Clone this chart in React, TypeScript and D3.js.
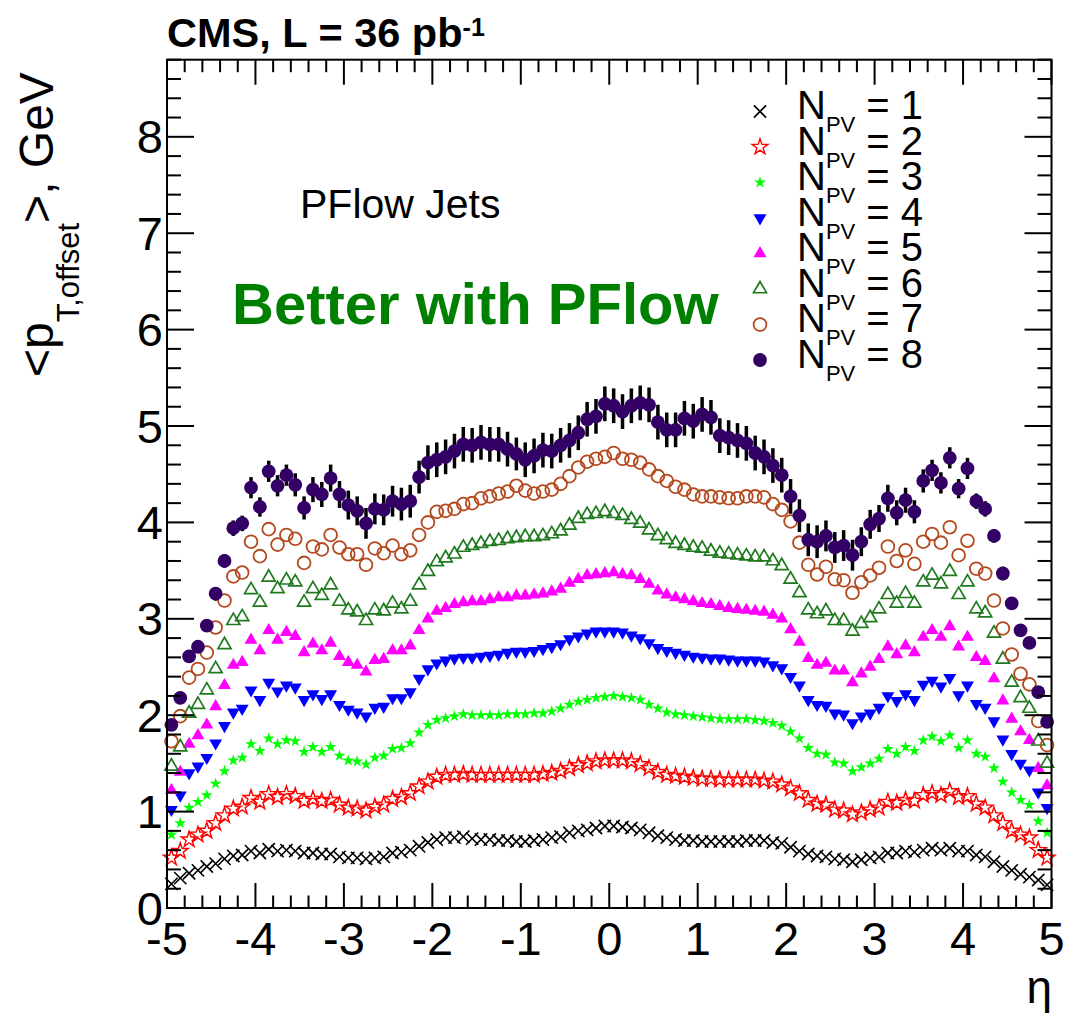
import React from 'react';
import * as d3 from 'd3';

// ---------- data ----------
const etaMin = -5;
const etaMax = 5;
const binWidth = 0.1;
const etaCenters = d3.range(100).map((i) => etaMin + binWidth / 2 + i * binWidth);

const npv1 = [
  0.25,0.31,0.36,0.39,0.43,0.46,0.51,0.54,0.55,0.59,
  0.57,0.61,0.59,0.60,0.59,0.57,0.57,0.56,0.56,0.53,
  0.52,0.52,0.51,0.52,0.53,0.57,0.58,0.60,0.64,0.68,
  0.71,0.73,0.73,0.74,0.72,0.71,0.71,0.70,0.70,0.69,
  0.69,0.70,0.71,0.73,0.74,0.78,0.80,0.81,0.83,0.85,
  0.85,0.84,0.83,0.81,0.78,0.75,0.73,0.71,0.70,0.70,
  0.69,0.69,0.69,0.69,0.69,0.70,0.70,0.70,0.68,0.67,
  0.63,0.59,0.56,0.54,0.53,0.51,0.50,0.48,0.50,0.52,
  0.53,0.57,0.57,0.59,0.58,0.60,0.62,0.60,0.62,0.59,
  0.59,0.55,0.53,0.48,0.43,0.39,0.35,0.32,0.29,0.24,
];
const npv2 = [
  0.52,0.59,0.71,0.76,0.80,0.88,0.96,1.03,1.05,1.14,
  1.10,1.18,1.15,1.18,1.16,1.11,1.13,1.11,1.12,1.07,
  1.04,1.03,1.01,1.05,1.07,1.13,1.15,1.19,1.26,1.31,
  1.36,1.38,1.38,1.39,1.38,1.38,1.38,1.38,1.38,1.38,
  1.38,1.38,1.39,1.40,1.42,1.45,1.48,1.50,1.52,1.53,
  1.53,1.53,1.52,1.49,1.45,1.41,1.38,1.37,1.36,1.35,
  1.34,1.34,1.33,1.33,1.33,1.33,1.33,1.32,1.31,1.28,
  1.24,1.19,1.12,1.08,1.07,1.02,1.01,0.97,0.99,1.02,
  1.04,1.10,1.09,1.12,1.11,1.17,1.19,1.17,1.21,1.15,
  1.16,1.08,1.04,0.96,0.88,0.80,0.76,0.73,0.60,0.52,
];
const npv3 = [
  0.76,0.88,1.04,1.10,1.17,1.29,1.42,1.53,1.56,1.70,
  1.63,1.76,1.70,1.74,1.73,1.62,1.67,1.62,1.67,1.58,
  1.53,1.52,1.49,1.56,1.58,1.65,1.66,1.71,1.82,1.90,
  1.95,1.97,1.99,2.01,2.00,2.00,2.00,2.00,2.01,2.01,
  2.01,2.02,2.02,2.04,2.07,2.11,2.14,2.16,2.18,2.19,
  2.20,2.19,2.18,2.16,2.11,2.07,2.03,2.01,2.00,1.99,
  1.98,1.97,1.96,1.96,1.96,1.96,1.95,1.94,1.92,1.89,
  1.83,1.76,1.66,1.60,1.59,1.51,1.50,1.42,1.46,1.50,
  1.55,1.65,1.60,1.67,1.63,1.74,1.78,1.73,1.79,1.66,
  1.74,1.60,1.57,1.45,1.31,1.20,1.12,1.07,0.90,0.78,
];
const npv4 = [
  1.02,1.17,1.40,1.47,1.56,1.71,1.89,2.03,2.07,2.26,
  2.16,2.34,2.25,2.31,2.29,2.16,2.22,2.17,2.22,2.11,
  2.06,2.03,1.99,2.08,2.09,2.18,2.18,2.24,2.38,2.48,
  2.54,2.57,2.59,2.60,2.60,2.61,2.62,2.63,2.65,2.66,
  2.66,2.67,2.69,2.71,2.74,2.79,2.82,2.85,2.87,2.87,
  2.87,2.86,2.83,2.80,2.75,2.70,2.67,2.65,2.63,2.61,
  2.60,2.59,2.59,2.58,2.57,2.57,2.57,2.56,2.52,2.49,
  2.40,2.31,2.16,2.11,2.10,2.02,2.01,1.92,1.99,2.02,
  2.08,2.20,2.15,2.22,2.16,2.32,2.36,2.30,2.39,2.21,
  2.31,2.12,2.08,1.94,1.75,1.60,1.50,1.43,1.20,1.04,
];
const npv5 = [
  1.22,1.41,1.70,1.79,1.90,2.09,2.31,2.52,2.55,2.78,
  2.67,2.88,2.78,2.86,2.82,2.65,2.74,2.67,2.75,2.61,
  2.55,2.52,2.45,2.57,2.58,2.67,2.67,2.72,2.88,3.00,
  3.08,3.11,3.15,3.17,3.18,3.18,3.20,3.22,3.22,3.24,
  3.24,3.25,3.26,3.28,3.31,3.37,3.41,3.45,3.46,3.47,
  3.48,3.46,3.45,3.41,3.36,3.29,3.25,3.22,3.20,3.18,
  3.16,3.15,3.13,3.11,3.10,3.09,3.08,3.07,3.04,3.00,
  2.89,2.76,2.59,2.52,2.54,2.46,2.46,2.34,2.43,2.50,
  2.58,2.71,2.63,2.72,2.65,2.81,2.88,2.81,2.92,2.71,
  2.81,2.60,2.56,2.38,2.15,1.96,1.83,1.74,1.45,1.27,
];
const npv6 = [
  1.47,1.67,2.02,2.11,2.26,2.48,2.73,2.98,3.02,3.30,
  3.17,3.43,3.31,3.40,3.38,3.17,3.31,3.24,3.35,3.18,
  3.09,3.07,2.98,3.09,3.08,3.16,3.10,3.18,3.35,3.49,
  3.59,3.63,3.67,3.74,3.76,3.78,3.80,3.81,3.83,3.84,
  3.85,3.85,3.86,3.88,3.91,3.97,4.04,4.08,4.09,4.11,
  4.09,4.07,4.03,3.99,3.92,3.86,3.82,3.78,3.76,3.74,
  3.73,3.70,3.68,3.67,3.66,3.65,3.64,3.64,3.60,3.55,
  3.41,3.27,3.09,3.05,3.08,2.98,2.98,2.87,2.95,3.01,
  3.10,3.25,3.16,3.26,3.16,3.38,3.45,3.36,3.49,3.25,
  3.38,3.10,3.06,2.85,2.58,2.34,2.18,2.07,1.73,1.50,
];
const npv7 = [
  1.73,1.99,2.39,2.48,2.65,2.91,3.19,3.44,3.48,3.80,
  3.65,3.93,3.77,3.87,3.83,3.58,3.75,3.72,3.87,3.74,
  3.67,3.67,3.56,3.73,3.68,3.76,3.67,3.71,3.87,4.00,
  4.11,4.12,4.14,4.19,4.20,4.25,4.27,4.30,4.32,4.38,
  4.33,4.30,4.32,4.34,4.40,4.48,4.57,4.63,4.66,4.68,
  4.72,4.66,4.65,4.62,4.55,4.48,4.43,4.37,4.34,4.29,
  4.27,4.27,4.26,4.25,4.25,4.27,4.27,4.26,4.19,4.13,
  4.01,3.79,3.56,3.46,3.54,3.41,3.40,3.27,3.38,3.45,
  3.53,3.75,3.60,3.71,3.57,3.80,3.88,3.79,3.95,3.66,
  3.81,3.52,3.47,3.19,2.90,2.63,2.43,2.32,1.94,1.69,
];
const npv8 = [
  1.90,2.18,2.61,2.71,2.93,3.26,3.60,3.94,3.99,4.36,
  4.16,4.53,4.38,4.49,4.39,4.15,4.34,4.29,4.46,4.29,
  4.18,4.12,3.99,4.14,4.13,4.22,4.19,4.22,4.47,4.62,
  4.65,4.68,4.74,4.81,4.80,4.83,4.81,4.81,4.76,4.71,
  4.65,4.69,4.75,4.74,4.80,4.85,4.93,5.07,5.10,5.23,
  5.21,5.15,5.21,5.24,5.22,5.04,4.96,4.96,5.08,5.05,
  5.12,5.09,4.90,4.88,4.85,4.82,4.72,4.68,4.59,4.49,
  4.27,4.07,3.82,3.80,3.86,3.74,3.76,3.66,3.80,3.98,
  4.04,4.25,4.10,4.23,4.11,4.43,4.54,4.41,4.67,4.35,
  4.56,4.22,4.14,3.86,3.47,3.16,2.88,2.75,2.24,1.93,
];
const npv8Err = [
  0.02,0.03,0.04,0.05,0.06,0.07,0.07,0.08,0.08,0.11,
  0.10,0.11,0.11,0.11,0.12,0.12,0.13,0.13,0.14,0.14,
  0.15,0.15,0.16,0.16,0.16,0.16,0.17,0.17,0.17,0.18,
  0.18,0.18,0.18,0.18,0.18,0.18,0.18,0.18,0.18,0.17,
  0.18,0.18,0.18,0.18,0.18,0.18,0.18,0.18,0.18,0.18,
  0.18,0.18,0.18,0.18,0.18,0.18,0.18,0.18,0.18,0.18,
  0.18,0.18,0.18,0.18,0.18,0.18,0.18,0.18,0.18,0.18,
  0.18,0.17,0.17,0.17,0.16,0.16,0.16,0.16,0.15,0.15,
  0.14,0.14,0.13,0.13,0.12,0.12,0.11,0.11,0.11,0.10,
  0.11,0.08,0.08,0.07,0.07,0.06,0.05,0.04,0.03,0.02,
];

const legendLabels = ['1', '2', '3', '4', '5', '6', '7', '8'];
const xTickValues = [-5, -4, -3, -2, -1, 0, 1, 2, 3, 4, 5];
const yTickValues = [0, 1, 2, 3, 4, 5, 6, 7, 8];

// ---------- layout ----------
const W = 1078;
const H = 1018;
const L = 167;
const R = 1051.5;
const T = 59.7;
const B = 908;
const FONT = '"Liberation Sans", Arial, Helvetica, sans-serif';

const x = d3.scaleLinear().domain([etaMin, etaMax]).range([L, R]);
const y = d3.scaleLinear().domain([0, 8.8]).range([B, T]);

const sym = (type: any, size: number) => d3.symbol().type(type).size(size)() as string;

type Style = {
  path?: string;
  circle?: number;
  fill: string;
  stroke: string;
  sw: number;
  rot?: number;
};

const styles: Style[] = [
  { path: sym(d3.symbolTimes, 100), fill: 'none', stroke: '#000000', sw: 1.6 },
  { path: sym(d3.symbolStar, 78), fill: 'none', stroke: '#ff0000', sw: 1.4 },
  { path: sym(d3.symbolStar, 44), fill: '#00ff00', stroke: 'none', sw: 0 },
  { path: sym(d3.symbolTriangle, 72), fill: '#0000ff', stroke: 'none', sw: 0, rot: 180 },
  { path: sym(d3.symbolTriangle, 72), fill: '#ff00ff', stroke: 'none', sw: 0 },
  { path: sym(d3.symbolTriangle, 74), fill: 'none', stroke: '#1f7a1f', sw: 1.7 },
  { circle: 6.4, fill: 'none', stroke: '#b4491d', sw: 1.8 },
  { circle: 6.9, fill: '#330066', stroke: 'none', sw: 0 },
];

const seriesList = [npv1, npv2, npv3, npv4, npv5, npv6, npv7, npv8];

function Marker({ s, cx, cy }: { s: Style; cx: number; cy: number }) {
  if (s.circle) {
    return <circle cx={cx} cy={cy} r={s.circle} fill={s.fill} stroke={s.stroke} strokeWidth={s.sw} />;
  }
  return (
    <path
      d={s.path}
      transform={`translate(${cx},${cy})${s.rot ? ` rotate(${s.rot})` : ''}`}
      fill={s.fill}
      stroke={s.stroke}
      strokeWidth={s.sw}
      strokeLinejoin="miter"
    />
  );
}

export default function App() {
  const xMinor = d3.range(-5, 5.0001, 0.2).map((v) => +v.toFixed(2));
  const yMinor = d3.range(0, 8.8001, 0.2).map((v) => +v.toFixed(2));
  const isMajor = (v: number) => Math.abs(v - Math.round(v)) < 1e-6;

  const legendX = 760;
  const legendY0 = 111.5;
  const legendDy = 35.5;

  return (
    <svg
      width={W}
      height={H}
      viewBox={`0 0 ${W} ${H}`}
      style={{ position: 'absolute', left: 0, top: 0, background: '#fff' }}
      fontFamily={FONT}
    >
      <rect x={0} y={0} width={W} height={H} fill="#fff" />

      {/* error bars for N_PV = 8 */}
      <g stroke="#000" strokeWidth={3.5}>
        {npv8.map((v, i) => (
          <line key={i} x1={x(etaCenters[i])} x2={x(etaCenters[i])} y1={y(v - npv8Err[i])} y2={y(v + npv8Err[i])} />
        ))}
      </g>

      {/* markers */}
      {seriesList.map((vals, si) => (
        <g key={si}>
          {vals.map((v, i) => (
            <Marker key={i} s={styles[si]} cx={x(etaCenters[i])} cy={y(v)} />
          ))}
        </g>
      ))}

      {/* frame */}
      <rect x={L} y={T} width={R - L} height={B - T} fill="none" stroke="#000" strokeWidth={2} />

      {/* ticks */}
      <g stroke="#000" strokeWidth={2}>
        {xMinor.map((v) => {
          const len = isMajor(v) ? 25 : 12.5;
          return (
            <g key={v}>
              <line x1={x(v)} x2={x(v)} y1={B} y2={B - len} />
              <line x1={x(v)} x2={x(v)} y1={T} y2={T + len} />
            </g>
          );
        })}
        {yMinor.map((v) => {
          const len = isMajor(v) ? 27 : 14;
          return (
            <g key={v}>
              <line x1={L} x2={L + len} y1={y(v)} y2={y(v)} />
              <line x1={R} x2={R - len} y1={y(v)} y2={y(v)} />
            </g>
          );
        })}
      </g>

      {/* tick labels */}
      <g fontSize={47} fill="#000">
        {xTickValues.map((v) => (
          <text key={v} x={x(v)} y={955} textAnchor="middle">
            {String(v)}
          </text>
        ))}
        {yTickValues.map((v) => (
          <text key={v} x={163} y={y(v) + 16.5} textAnchor="end">
            {v}
          </text>
        ))}
      </g>

      {/* axis titles */}
      <text x={1052} y={1003} textAnchor="end" fontSize={46}>
        η
      </text>
      <text transform="translate(53,377) rotate(-90)" fontSize={48}>
        <tspan>{'<p'}</tspan>
        <tspan fontSize={31} dy={26}>
          T,offset
        </tspan>
        <tspan dy={-26}>{'>, GeV'}</tspan>
      </text>

      {/* header */}
      <text x={167} y={47} fontSize={41.5} fontWeight="bold">
        <tspan>CMS, L = 36 pb</tspan>
        <tspan fontSize={25} dy={-11}>
          -1
        </tspan>
      </text>

      <text x={300} y={218} fontSize={41}>
        PFlow Jets
      </text>
      <text x={232} y={324} fontSize={58} fontWeight="bold" fill="#008000">
        Better with PFlow
      </text>

      {/* legend */}
      {legendLabels.map((lab, i) => {
        const cy = legendY0 + i * legendDy;
        return (
          <g key={lab}>
            <Marker s={styles[i]} cx={legendX} cy={cy} />
            <text x={797} y={cy + 7.5} fontSize={40}>
              <tspan>N</tspan>
              <tspan fontSize={22} dy={13}>
                PV
              </tspan>
              <tspan dy={-13}>{` = ${lab}`}</tspan>
            </text>
          </g>
        );
      })}
    </svg>
  );
}
